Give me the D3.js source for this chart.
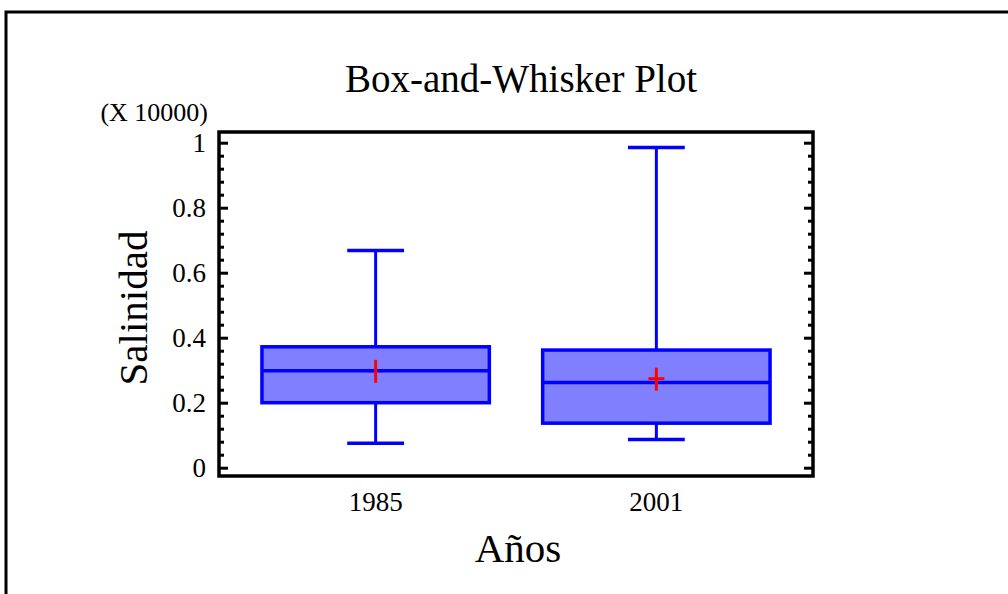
<!DOCTYPE html>
<html><head><meta charset="utf-8">
<script src="https://cdn.jsdelivr.net/npm/d3@7"></script>
<style>body{margin:0;background:#fff}svg{display:block}text{font-family:"Liberation Serif","Times New Roman",serif;fill:#000}</style>
</head><body><svg id="c" width="1008" height="594"></svg>
<script>
const categories = ["1985", "2001"];
const whiskerLow = [0.075, 0.087];
const q1 = [0.200, 0.137];
const median = [0.298, 0.262];
const q3 = [0.372, 0.362];
const whiskerHigh = [0.668, 0.985];
const means = [0.298, 0.274];
const yTicks = [0, 0.2, 0.4, 0.6, 0.8, 1];

const svg = d3.select("#c");
// outer frame
svg.append("path").attr("d","M6,594 V12 H1008").attr("fill","none").attr("stroke","#000").attr("stroke-width",3);

const L=219, R=813, T=132, B=476;
const y = d3.scaleLinear().domain([0,1]).range([467.7,142.7]);
const x = d3.scalePoint().domain(categories).range([L,R]).padding(0.558);
const step = x.step();
const boxW = step*0.81, capW = boxW/4;

const g = svg.append("g");
const minor = d3.range(0,1.0001,0.04).filter(v=>Math.abs(v*5-Math.round(v*5))>1e-6);
const yAxisL = d3.axisRight(y).tickValues(yTicks).tickSize(9).tickFormat("");
const yAxisLm = d3.axisRight(y).tickValues(minor).tickSize(5).tickFormat("");
const yAxisR = d3.axisLeft(y).tickValues(yTicks).tickSize(9).tickFormat("");
const yAxisRm = d3.axisLeft(y).tickValues(minor).tickSize(5).tickFormat("");
function styleAx(sel){sel.select(".domain").remove();sel.selectAll("line").attr("stroke","#000").attr("stroke-width",3);}
g.append("g").attr("transform",`translate(${L},0)`).call(yAxisL).call(styleAx);
g.append("g").attr("transform",`translate(${L},0)`).call(yAxisLm).call(styleAx);
g.append("g").attr("transform",`translate(${R},0)`).call(yAxisR).call(styleAx);
g.append("g").attr("transform",`translate(${R},0)`).call(yAxisRm).call(styleAx);
// tick labels
g.selectAll("text.yl").data(yTicks).join("text").attr("class","yl")
 .attr("x",206).attr("y",d=>y(d)).attr("dy","0.35em").attr("text-anchor","end")
 .style("font-size","27px").text(d=>d3.format("~g")(d));
// frame
g.append("rect").attr("x",L).attr("y",T).attr("width",R-L).attr("height",B-T)
 .attr("fill","none").attr("stroke","#000").attr("stroke-width",3.5);
// x labels
g.selectAll("text.xl").data(categories).join("text").attr("class","xl")
 .attr("x",d=>x(d)).attr("y",511).attr("text-anchor","middle").style("font-size","27px").text(d=>d);

// boxes
const data = categories.map((c,i)=>({c,lo:whiskerLow[i],q1:q1[i],med:median[i],q3:q3[i],hi:whiskerHigh[i],mean:means[i]}));
const bx = g.selectAll("g.box").data(data).join("g").attr("class","box");
const blue="#0000ff";
bx.append("line").attr("x1",d=>x(d.c)).attr("x2",d=>x(d.c)).attr("y1",d=>y(d.hi)).attr("y2",d=>y(d.q3)).attr("stroke",blue).attr("stroke-width",3);
bx.append("line").attr("x1",d=>x(d.c)).attr("x2",d=>x(d.c)).attr("y1",d=>y(d.q1)).attr("y2",d=>y(d.lo)).attr("stroke",blue).attr("stroke-width",3);
bx.append("line").attr("x1",d=>x(d.c)-capW/2).attr("x2",d=>x(d.c)+capW/2).attr("y1",d=>y(d.hi)).attr("y2",d=>y(d.hi)).attr("stroke",blue).attr("stroke-width",3.5);
bx.append("line").attr("x1",d=>x(d.c)-capW/2).attr("x2",d=>x(d.c)+capW/2).attr("y1",d=>y(d.lo)).attr("y2",d=>y(d.lo)).attr("stroke",blue).attr("stroke-width",3.5);
bx.append("rect").attr("x",d=>x(d.c)-boxW/2).attr("width",boxW).attr("y",d=>y(d.q3)).attr("height",d=>y(d.q1)-y(d.q3))
 .attr("fill","#8080ff").attr("stroke",blue).attr("stroke-width",3.5);
// mean plus (drawn under the median line)
bx.append("line").attr("x1",d=>x(d.c)-8).attr("x2",d=>x(d.c)+8).attr("y1",d=>y(d.mean)).attr("y2",d=>y(d.mean)).attr("stroke","#ff0000").attr("stroke-width",3);
bx.append("line").attr("x1",d=>x(d.c)-boxW/2).attr("x2",d=>x(d.c)+boxW/2).attr("y1",d=>y(d.med)).attr("y2",d=>y(d.med)).attr("stroke",blue).attr("stroke-width",3.5);
bx.append("line").attr("x1",d=>x(d.c)).attr("x2",d=>x(d.c)).attr("y1",d=>y(d.mean)-11).attr("y2",d=>y(d.mean)+12).attr("stroke","#ff0000").attr("stroke-width",3);

// titles
svg.append("text").attr("x",521).attr("y",92).attr("text-anchor","middle").style("font-size","39px").text("Box-and-Whisker Plot");
svg.append("text").attr("x",208).attr("y",121).attr("text-anchor","end").style("font-size","26px").text("(X 10000)");
svg.append("text").attr("transform","translate(147,308) rotate(-90)").attr("text-anchor","middle").style("font-size","41px").text("Salinidad");
svg.append("text").attr("x",518).attr("y",562).attr("text-anchor","middle").style("font-size","41px").text("Años");
</script></body></html>
